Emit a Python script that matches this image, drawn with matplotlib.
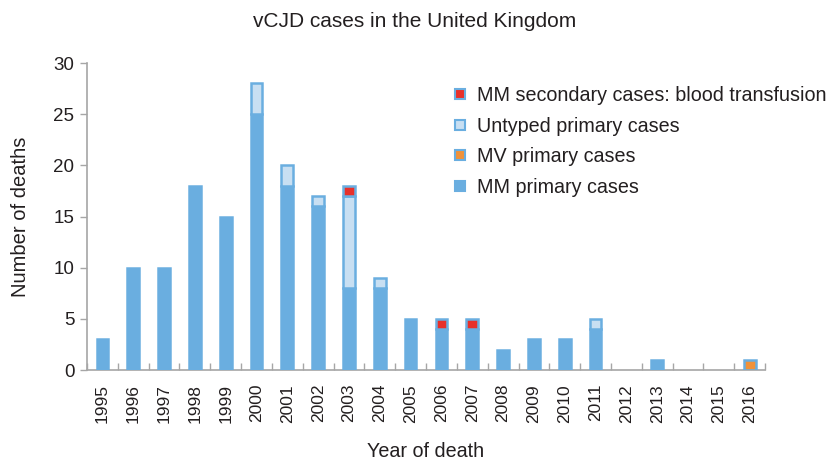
import matplotlib.pyplot as plt
from matplotlib.lines import Line2D
import numpy as np

plt.rcParams['font.family'] = ['Liberation Sans', 'DejaVu Sans']

# Data
years = list(range(1995, 2017))
mm_primary = [3, 10, 10, 18, 15, 25, 18, 16, 8, 8, 5, 4, 4, 2, 3, 3, 4, 0, 1, 0, 0, 0]
mv_primary = [0, 0, 0, 0, 0, 0, 0, 0, 0, 0, 0, 0, 0, 0, 0, 0, 0, 0, 0, 0, 0, 1]
untyped    = [0, 0, 0, 0, 0, 3, 2, 1, 9, 1, 0, 0, 0, 0, 0, 0, 1, 0, 0, 0, 0, 0]
secondary  = [0, 0, 0, 0, 0, 0, 0, 0, 1, 0, 0, 1, 1, 0, 0, 0, 0, 0, 0, 0, 0, 0]

series = [
    ('MM primary cases', mm_primary, '#6aaee0'),
    ('MV primary cases', mv_primary, '#f0923a'),
    ('Untyped primary cases', untyped, '#c8dff2'),
    ('MM secondary cases: blood transfusion', secondary, '#e8302a'),
]

edge = '#6aaee0'
txt = '#231f20'
spine = '#a6a6a6'

fig = plt.figure(figsize=(8.3, 4.62), dpi=100)
ax = fig.add_axes([0.1048, 0.199, 0.817, 0.6646])

x = np.arange(len(years))
bottom = np.zeros(len(years))
handles = []
for name, vals, col in series:
    vals = np.array(vals, dtype=float)
    m = vals > 0
    ax.bar(x[m], vals[m], bottom=bottom[m], width=0.38, color=col,
           edgecolor=edge, linewidth=1.8, zorder=3)
    bottom += vals
    handles.append(Line2D([], [], linestyle='none', marker='s', markersize=7,
                          markerfacecolor=col, markeredgecolor=edge,
                          markeredgewidth=1.5, label=name))

ax.set_xlim(-0.5, len(years) - 0.5)
ax.set_ylim(0, 30)
ax.set_yticks(range(0, 31, 5))
ax.set_xticks(x)
ax.set_xticklabels([str(y) for y in years], rotation=90)
ax.set_xticks(np.arange(-0.5, len(years), 1), minor=True)
ax.tick_params(axis='x', which='major', length=0, pad=10, labelsize=12.5, labelcolor=txt)
ax.tick_params(axis='x', which='minor', direction='in', length=5, width=1, color=spine)
ax.tick_params(axis='y', length=5, width=1, color=spine, labelsize=13.5, labelcolor=txt, pad=4)

for s in ['top', 'right']:
    ax.spines[s].set_visible(False)
for s in ['left', 'bottom']:
    ax.spines[s].set_color(spine)
    ax.spines[s].set_linewidth(1.2)

ax.set_ylabel('Number of deaths', fontsize=14.5, color=txt, labelpad=17)
ax.set_xlabel('Year of death', fontsize=14.2, color=txt, labelpad=14)
fig.suptitle('vCJD cases in the United Kingdom', fontsize=15, color=txt, y=0.975)

ax.legend(handles=handles[::-1], loc='upper left', bbox_to_anchor=(0.512, 0.982),
          frameon=False, fontsize=14.2, handlelength=0.8, handletextpad=0.45,
          labelspacing=0.58, labelcolor=txt)

fig.savefig('out.png', dpi=100)
